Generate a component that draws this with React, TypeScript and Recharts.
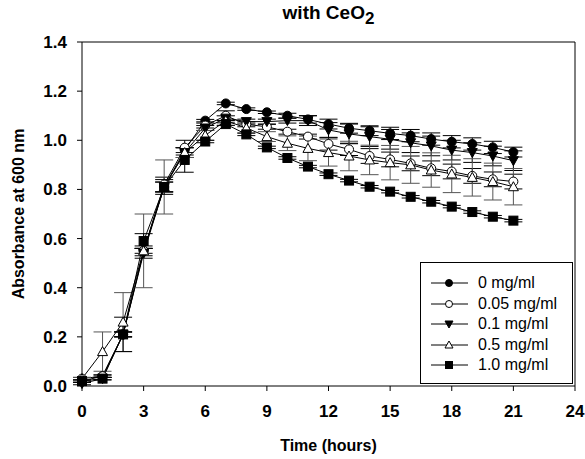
import React from "react";
import {
  LineChart,
  Line,
  XAxis,
  YAxis,
  ErrorBar,
  ReferenceLine,
} from "recharts";

const FONT = "'Liberation Sans', Arial, Helvetica, sans-serif";

const hours = [0, 1, 2, 3, 4, 5, 6, 7, 8, 9, 10, 11, 12, 13, 14, 15, 16, 17, 18, 19, 20, 21];

// absorbance per CeO2 concentration
const c0 = [0.02, 0.04, 0.21, 0.55, 0.81, 0.96, 1.08, 1.15, 1.127, 1.114, 1.1, 1.085, 1.066, 1.049, 1.039, 1.028, 1.019, 1.005, 0.994, 0.985, 0.971, 0.952];
const c005 = [0.03, 0.04, 0.21, 0.55, 0.82, 0.97, 1.06, 1.1, 1.065, 1.055, 1.035, 1.015, 0.985, 0.963, 0.936, 0.922, 0.906, 0.886, 0.873, 0.855, 0.841, 0.832];
const c01 = [0.01, 0.03, 0.21, 0.54, 0.81, 0.95, 1.05, 1.09, 1.076, 1.076, 1.08, 1.08, 1.042, 1.026, 1.015, 1.004, 0.99, 0.977, 0.96, 0.95, 0.936, 0.917];
const c05 = [0.03, 0.14, 0.26, 0.55, 0.81, 0.95, 1.02, 1.08, 1.05, 1.015, 0.988, 0.967, 0.95, 0.936, 0.92, 0.909, 0.9, 0.879, 0.863, 0.849, 0.832, 0.811];
const c1 = [0.02, 0.03, 0.21, 0.59, 0.81, 0.92, 0.995, 1.066, 1.024, 0.971, 0.928, 0.893, 0.862, 0.836, 0.811, 0.791, 0.77, 0.75, 0.73, 0.708, 0.689, 0.673];

// standard deviations
const e0 = [0.005, 0.005, 0.01, 0.01, 0.02, 0.01, 0.005, 0.005, 0.005, 0.005, 0.01, 0.015, 0.02, 0.02, 0.02, 0.025, 0.025, 0.025, 0.025, 0.025, 0.025, 0.02];
const e005 = [0.005, 0.005, 0.01, 0.02, 0.03, 0.03, 0.01, 0.02, 0.01, 0.01, 0.01, 0.01, 0.025, 0.025, 0.03, 0.03, 0.03, 0.03, 0.03, 0.03, 0.03, 0.03];
const e01 = [0.005, 0.005, 0.01, 0.02, 0.02, 0.02, 0.01, 0.01, 0.01, 0.01, 0.01, 0.02, 0.03, 0.04, 0.04, 0.04, 0.04, 0.04, 0.04, 0.04, 0.04, 0.04];
const e05 = [0.005, 0.08, 0.12, 0.15, 0.11, 0.02, 0.02, 0.02, 0.02, 0.02, 0.03, 0.05, 0.055, 0.06, 0.06, 0.07, 0.075, 0.07, 0.076, 0.076, 0.075, 0.074];
const e1 = [0.005, 0.005, 0.07, 0.03, 0.03, 0.05, 0.005, 0.005, 0.005, 0.005, 0.005, 0.005, 0.005, 0.005, 0.005, 0.005, 0.005, 0.005, 0.005, 0.005, 0.005, 0.005];

const xTicks = [0, 3, 6, 9, 12, 15, 18, 21, 24];
const yTicks = [0, 0.2, 0.4, 0.6, 0.8, 1.0, 1.2, 1.4];

const series = [
  { key: "c0", err: "e0", name: "0 mg/ml", shape: "circle", fill: "#000", errColor: "#000" },
  { key: "c005", err: "e005", name: "0.05 mg/ml", shape: "circle", fill: "#fff", errColor: "#000" },
  { key: "c01", err: "e01", name: "0.1 mg/ml", shape: "down", fill: "#000", errColor: "#000" },
  { key: "c05", err: "e05", name: "0.5 mg/ml", shape: "up", fill: "#fff", errColor: "#555" },
  { key: "c1", err: "e1", name: "1.0 mg/ml", shape: "square", fill: "#000", errColor: "#000" },
];

const data = hours.map((h, i) => ({
  hour: h,
  c0: c0[i],
  c005: c005[i],
  c01: c01[i],
  c05: c05[i],
  c1: c1[i],
  e0: e0[i],
  e005: e005[i],
  e01: e01[i],
  e05: e05[i],
  e1: e1[i],
}));

function Marker({ cx, cy, shape, fill, r = 4.5 }: any) {
  if (cx == null || cy == null) return null;
  const s = { fill, stroke: "#000", strokeWidth: 1 };
  if (shape === "circle") return <circle cx={cx} cy={cy} r={r} {...s} />;
  if (shape === "square")
    return <rect x={cx - r} y={cy - r} width={r * 2} height={r * 2} {...s} />;
  if (shape === "up")
    return (
      <polygon
        points={`${cx},${cy - r - 0.5} ${cx - r - 0.5},${cy + r - 0.5} ${cx + r + 0.5},${cy + r - 0.5}`}
        {...s}
      />
    );
  return (
    <polygon
      points={`${cx},${cy + r + 0.5} ${cx - r - 0.5},${cy - r + 0.5} ${cx + r + 0.5},${cy - r + 0.5}`}
      {...s}
    />
  );
}

const tickStyle = { fill: "#000", fontSize: 17, fontWeight: 700, fontFamily: FONT };

function LegendBox() {
  return (
    <div
      style={{
        position: "absolute",
        left: 420,
        top: 262,
        width: 151,
        height: 120,
        border: "1px solid #000",
        background: "#fff",
        boxSizing: "content-box",
        fontFamily: FONT,
        fontSize: 16,
      }}
    >
      <div style={{ height: 10 }} />
      {series.map((s) => (
        <div key={s.key} style={{ display: "flex", alignItems: "center", height: 20.5 }}>
          <svg width={48} height={14} style={{ marginLeft: 8, flex: "none" }}>
            <line x1={2} x2={39} y1={7} y2={7} stroke="#000" strokeWidth={1} />
            <Marker cx={20} cy={7} shape={s.shape} fill={s.fill} r={3.5} />
          </svg>
          <span style={{ marginLeft: 1 }}>{s.name}</span>
        </div>
      ))}
    </div>
  );
}

export default function App() {
  return (
    <div style={{ position: "absolute", left: 0, top: 0, width: 585, height: 459, background: "#fff" }}>
      <div
        style={{
          position: "absolute",
          left: 82,
          width: 493,
          top: 2,
          textAlign: "center",
          fontFamily: FONT,
          fontWeight: 700,
          fontSize: 19,
        }}
      >
        with CeO<sub style={{ fontSize: 17, verticalAlign: -5 }}>2</sub>
      </div>
      <LineChart
        width={585}
        height={459}
        data={data}
        margin={{ top: 42, right: 10, bottom: 0, left: 0 }}
      >
        <XAxis
          dataKey="hour"
          type="number"
          domain={[0, 24]}
          ticks={xTicks}
          interval={0}
          height={73}
          tickSize={5}
          tickMargin={14}
          tick={tickStyle}
          axisLine={{ stroke: "#000" }}
          tickLine={{ stroke: "#000" }}
          label={{
            value: "Time (hours)",
            position: "insideBottom",
            offset: 8,
            style: { fill: "#000", fontSize: 16, fontWeight: 700, fontFamily: FONT },
          }}
        />
        <YAxis
          type="number"
          domain={[0, 1.4]}
          ticks={yTicks}
          interval={0}
          width={82}
          tickSize={5}
          tickMargin={10}
          tickFormatter={(v: number) => v.toFixed(1)}
          tick={tickStyle}
          axisLine={{ stroke: "#000" }}
          tickLine={{ stroke: "#000" }}
          label={{
            value: "Absorbance at 600 nm",
            angle: -90,
            position: "center",
            dx: -23,
            style: { fill: "#000", fontSize: 16, fontWeight: 700, fontFamily: FONT, textAnchor: "middle" },
          }}
        />
        <ReferenceLine y={1.4} stroke="#000" strokeWidth={1} />
        <ReferenceLine x={24} stroke="#000" strokeWidth={1} />
        {series.map((s) => (
          <Line
            key={s.key}
            dataKey={s.key}
            name={s.name}
            type="linear"
            stroke="#000"
            strokeWidth={1}
            isAnimationActive={false}
            dot={(p: any) => (
              <Marker key={`${s.key}-${p.index}`} cx={p.cx} cy={p.cy} shape={s.shape} fill={s.fill} />
            )}
            activeDot={false}
          >
            <ErrorBar dataKey={s.err} direction="y" width={9} stroke={s.errColor} strokeWidth={1} isAnimationActive={false} />
          </Line>
        ))}
      </LineChart>
      <LegendBox />
    </div>
  );
}
